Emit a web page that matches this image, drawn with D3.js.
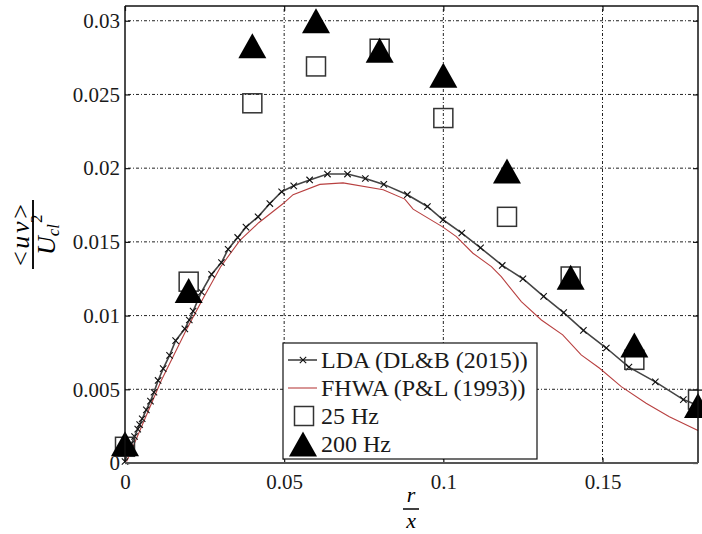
<!DOCTYPE html>
<html>
<head>
<meta charset="utf-8">
<script src="https://cdn.jsdelivr.net/npm/d3@7"></script>
<style>
  body { margin: 0; background: #fff; }
  text { font-family: Liberation Serif; }
  .tk text { font-size: 21px; }
</style>
</head>
<body>
<div id="graph"></div>
<script>
// LDA (DL&B 2015) curve
var ldaR = [0, 0.001, 0.002, 0.003, 0.004, 0.0046, 0.0054, 0.0067, 0.008, 0.0091, 0.0104, 0.012, 0.014, 0.0159,
  0.0188, 0.0202, 0.0214, 0.024, 0.0272, 0.0303, 0.0324, 0.0354, 0.038, 0.0418, 0.0455, 0.0492, 0.053, 0.058,
  0.0636, 0.0699, 0.0755, 0.0813, 0.0887, 0.095, 0.0999, 0.1058, 0.1117, 0.1185, 0.125, 0.1315, 0.1378, 0.144,
  0.1512, 0.1583, 0.1666, 0.1754, 0.18];
var ldaUV = [0.0001, 0.0008, 0.0013, 0.0018, 0.0023, 0.0026, 0.003, 0.0036, 0.0042, 0.0048, 0.0056, 0.0064, 0.0073, 0.0083,
  0.0091, 0.0097, 0.0103, 0.0116, 0.0128, 0.0136, 0.0145, 0.0153, 0.016, 0.0167, 0.0176, 0.0184, 0.0188, 0.0192,
  0.0196, 0.0196, 0.0193, 0.0189, 0.0182, 0.0174, 0.0165, 0.0156, 0.0146, 0.0134, 0.0125, 0.0113, 0.0102, 0.009,
  0.0078, 0.0065, 0.0055, 0.0043, 0.0039];

// FHWA (P&L 1993) curve
var fhwaR = [0.0005, 0.0025, 0.0114, 0.0192, 0.0246, 0.03, 0.0361, 0.042, 0.0497, 0.0528, 0.0612, 0.0685, 0.0811,
  0.0879, 0.0905, 0.0999, 0.1041, 0.1093, 0.1151, 0.1182, 0.1245, 0.1308, 0.1375, 0.1433, 0.1491, 0.1559,
  0.1637, 0.171, 0.18];
var fhwaUV = [0.0001, 0.0011, 0.0056, 0.009, 0.0112, 0.0133, 0.0151, 0.0163, 0.0176, 0.0182, 0.0189, 0.019, 0.01853,
  0.0179, 0.01722, 0.016, 0.01536, 0.01423, 0.01332, 0.01264, 0.01095, 0.0097, 0.00869, 0.00733, 0.00643, 0.00518,
  0.00405, 0.00314, 0.0022];

// measurements
var measR = [0, 0.02, 0.04, 0.06, 0.08, 0.1, 0.12, 0.14, 0.16, 0.18];
var hz25 = [0.0011, 0.0123, 0.0244, 0.0269, 0.0281, 0.0234, 0.0167, 0.01265, 0.007, 0.0043];
var hz200 = [0.0013, 0.0117, 0.0283, 0.030, 0.028, 0.0263, 0.0198, 0.0126, 0.0080, 0.0039];

var xTicks = [0, 0.05, 0.1, 0.15];
var xTickLabels = ["0", "0.05", "0.1", "0.15"];
var yTicks = [0, 0.005, 0.01, 0.015, 0.02, 0.025, 0.03];
var yTickLabels = ["0", "0.005", "0.01", "0.015", "0.02", "0.025", "0.03"];

var legendLabels = ["LDA (DL&B (2015))", "FHWA (P&L (1993))", "25 Hz", "200 Hz"];

var W = 702, H = 534;
var margin = {top: 6, right: 4, bottom: 71, left: 125};
var width = W - margin.left - margin.right,
    height = H - margin.top - margin.bottom;
var fam = "Liberation Serif";
var fsTick = 21, fsLeg = 24;

var x = d3.scaleLinear().domain([0, 0.18]).range([0, width]);
var y = d3.scaleLinear().domain([0, 0.031]).range([height, 0]);

var root = d3.select("#graph").append("svg")
    .attr("width", W).attr("height", H)
    .attr("font-family", fam);
var svg = root.append("g")
    .attr("transform", "translate(" + margin.left + "," + margin.top + ")");

// grid
svg.append("g").attr("class", "grid")
  .selectAll("line.gx").data(xTicks.slice(1)).enter().append("line")
    .attr("x1", function(d){ return x(d); }).attr("x2", function(d){ return x(d); })
    .attr("y1", 0).attr("y2", height)
    .attr("stroke", "#222").attr("stroke-width", 1).attr("stroke-dasharray", "1,2,3,2");
svg.select(".grid")
  .selectAll("line.gy").data(yTicks.slice(1)).enter().append("line")
    .attr("x1", 0).attr("x2", width)
    .attr("y1", function(d){ return y(d); }).attr("y2", function(d){ return y(d); })
    .attr("stroke", "#222").attr("stroke-width", 1).attr("stroke-dasharray", "1,2,3,2");

// axes
var xAxis = d3.axisBottom(x).tickValues(xTicks)
  .tickFormat(function(d, i){ return xTickLabels[i]; })
  .tickSize(-5).tickPadding(11);
var yAxis = d3.axisLeft(y).tickValues(yTicks)
  .tickFormat(function(d, i){ return yTickLabels[i]; })
  .tickSize(-5).tickPadding(5);

var gx = svg.append("g").attr("class", "tk").attr("transform", "translate(0," + height + ")").call(xAxis);
var gy = svg.append("g").attr("class", "tk").call(yAxis);
svg.append("g").call(d3.axisTop(x).tickValues(xTicks).tickFormat("").tickSize(-5));
svg.append("g").attr("transform", "translate(" + width + ",0)")
  .call(d3.axisRight(y).tickValues(yTicks).tickFormat("").tickSize(-5));

svg.selectAll(".domain").remove();
svg.selectAll(".tick line").attr("stroke", "#111").attr("stroke-width", 1.2);
[gx, gy].forEach(function(g){
  g.attr("font-size", fsTick);
  g.selectAll("text").attr("font-size", fsTick).style("font-size", fsTick + "px").attr("fill", "#1a1a1a");
});

// curves
var fhwa = fhwaR.map(function(r, i){ return [r, fhwaUV[i]]; });
var lda = ldaR.map(function(r, i){ return [r, ldaUV[i]]; });
var line = d3.line().x(function(d){ return x(d[0]); }).y(function(d){ return y(d[1]); });

svg.append("path").datum(fhwa).attr("d", line)
  .attr("fill", "none").attr("stroke", "#b84040").attr("stroke-width", 1.1);
svg.append("path").datum(lda).attr("d", line)
  .attr("fill", "none").attr("stroke", "#444").attr("stroke-width", 1.6);

function cross(sel, s) {
  sel.append("path")
    .attr("d", "M" + (-s) + "," + (-s) + "L" + s + "," + s + "M" + (-s) + "," + s + "L" + s + "," + (-s))
    .attr("stroke", "#111").attr("stroke-width", 1.1).attr("fill", "none");
}
svg.append("g").selectAll("g").data(lda).enter().append("g")
  .attr("transform", function(d){ return "translate(" + x(d[0]) + "," + y(d[1]) + ")"; })
  .call(cross, 3.2);

// 25 Hz squares
var sq = 19;
svg.append("g").selectAll("rect").data(measR).enter().append("rect")
  .attr("x", function(d){ return x(d) - sq / 2; })
  .attr("y", function(d, i){ return y(hz25[i]) - sq / 2; })
  .attr("width", sq).attr("height", sq)
  .attr("fill", "none").attr("stroke", "#333").attr("stroke-width", 1.5);

// 200 Hz triangles
var tri = "M0,-12.5L14,12.5L-14,12.5Z";
svg.append("g").selectAll("path").data(measR).enter().append("path")
  .attr("d", tri)
  .attr("transform", function(d, i){ return "translate(" + x(d) + "," + y(hz200[i]) + ")"; })
  .attr("fill", "#000");

// box
svg.append("line").attr("x1", 0).attr("x2", width).attr("y1", 0).attr("y2", 0).attr("stroke", "#111").attr("stroke-width", 1.5);
svg.append("line").attr("x1", 0).attr("x2", 0).attr("y1", 0).attr("y2", height).attr("stroke", "#111").attr("stroke-width", 1.5);
svg.append("line").attr("x1", width).attr("x2", width).attr("y1", 0).attr("y2", height).attr("stroke", "#111").attr("stroke-width", 1.5);
svg.append("line").attr("x1", 0).attr("x2", width).attr("y1", height).attr("y2", height).attr("stroke", "#555").attr("stroke-width", 1.8);

// legend
var lg = svg.append("g").attr("transform", "translate(" + (283 - margin.left) + "," + (343 - margin.top) + ")");
lg.append("rect").attr("width", 254).attr("height", 116)
  .attr("fill", "#fff").attr("stroke", "#111").attr("stroke-width", 1.2);
var rowY = [17, 45, 73, 101];
lg.selectAll("text").data(legendLabels).enter().append("text")
  .attr("x", 38).attr("y", function(d, i){ return rowY[i] + 8; })
  .attr("font-size", fsLeg).attr("fill", "#1a1a1a").text(function(d){ return d; });
lg.append("line").attr("x1", 5).attr("x2", 34).attr("y1", rowY[0]).attr("y2", rowY[0])
  .attr("stroke", "#444").attr("stroke-width", 1.6);
lg.append("g").attr("transform", "translate(20," + rowY[0] + ")").call(cross, 3.2);
lg.append("line").attr("x1", 5).attr("x2", 34).attr("y1", rowY[1]).attr("y2", rowY[1])
  .attr("stroke", "#b84040").attr("stroke-width", 1.1);
lg.append("rect").attr("x", 20 - sq / 2 + 1).attr("y", rowY[2] - sq / 2)
  .attr("width", sq).attr("height", sq).attr("fill", "none").attr("stroke", "#333").attr("stroke-width", 1.5);
lg.append("path").attr("d", tri).attr("transform", "translate(20," + rowY[3] + ")").attr("fill", "#000");

// x label r / x
var xl = svg.append("g").attr("transform", "translate(" + (411 - margin.left) + "," + (509 - margin.top) + ")");
xl.append("text").attr("x", 0).attr("y", -7).attr("text-anchor", "middle")
  .attr("font-size", 22).attr("font-style", "italic").text("r");
xl.append("line").attr("x1", -8).attr("x2", 8).attr("y1", 0).attr("y2", 0)
  .attr("stroke", "#111").attr("stroke-width", 1.6);
xl.append("text").attr("x", 0).attr("y", 19).attr("text-anchor", "middle")
  .attr("font-size", 22).attr("font-style", "italic").text("x");

// y label <uv> / U_cl^2, rotated
var yl = root.append("g").attr("transform", "translate(33,235) rotate(-90)");
yl.append("text").attr("x", 0).attr("y", -4).attr("text-anchor", "middle")
  .attr("font-size", 26).attr("textLength", 62).attr("lengthAdjust", "spacing")
  .html('&lt;<tspan font-style="italic">uv</tspan>&gt;');
yl.append("line").attr("x1", -34).attr("x2", 35).attr("y1", 0).attr("y2", 0)
  .attr("stroke", "#111").attr("stroke-width", 2);
var den = yl.append("text").attr("x", -20).attr("y", 22).attr("font-size", 26);
den.append("tspan").attr("font-style", "italic").text("U");
den.append("tspan").attr("font-style", "italic").attr("font-size", 17).attr("dy", 4).text("cl");
den.append("tspan").attr("font-size", 17).attr("dy", -17).attr("dx", 1).text("2");
</script>
</body>
</html>
